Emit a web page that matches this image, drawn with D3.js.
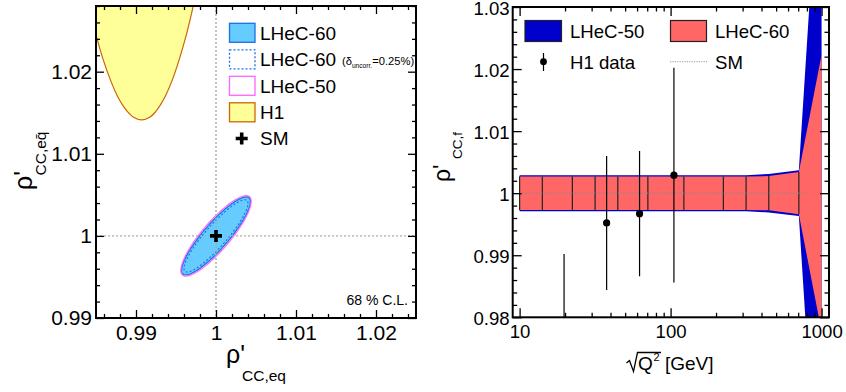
<!DOCTYPE html>
<html><head><meta charset="utf-8">
<script src="https://cdn.jsdelivr.net/npm/d3@7"></script>
<style>
html,body{margin:0;padding:0;background:#fff;}
svg{display:block;font-family:"Liberation Sans",Arial,Helvetica,sans-serif;}
</style></head><body>
<svg id="c" width="846" height="392"></svg>
<script>
// ---------- Left panel data ----------
const xTicksL = [0.99, 1, 1.01, 1.02];
const xTickLabelsL = ["0.99", "1", "1.01", "1.02"];
const yTicksL = [0.99, 1, 1.01, 1.02];
const yTickLabelsL = ["0.99", "1", "1.01", "1.02"];
const ellipseNames = ["LHeC-60", "LHeC-60 (δuncorr.=0.25%)", "LHeC-50"];
const ellipseCenterX = [1, 1, 1];
const ellipseCenterY = [1, 1, 1];
const ellipseHalfX = [0.0043, 0.0040, 0.0044];
const ellipseHalfY = [0.00475, 0.0044, 0.0049];
const ellipseRho = [0.88, 0.90, 0.86];
const h1ContourX = [0.98365, 0.985, 0.98591, 0.98680, 0.98761, 0.98831, 0.98896, 0.98964, 0.99071,
                    0.99176, 0.99243, 0.99305, 0.99374, 0.99454, 0.99539, 0.99629, 0.99716, 0.99760];
const h1ContourY = [1.02996, 1.02448, 1.02144, 1.01900, 1.01717, 1.01596, 1.01510, 1.01449, 1.01413,
                    1.01449, 1.01510, 1.01596, 1.01717, 1.01900, 1.02144, 1.02448, 1.02801, 1.02996];
const smPoint = [1, 1];
const leftLegendLabels = ["LHeC-60", "LHeC-60", "LHeC-50", "H1", "SM"];
const clLabel = "68 % C.L.";

// ---------- Right panel data ----------
const binEdges = [10, 14.14, 22.36, 31.62, 44.72, 70.71, 122.47, 223.61, 316.23, 447.21, 707.11, 1000];
const lhec60Half = [0.0027, 0.0027, 0.0027, 0.0027, 0.0027, 0.0027, 0.0027, 0.0027, 0.0027, 0.00275, 0.0034, 0.0223];
const lhec50Half = [0.0029, 0.0029, 0.0029, 0.0029, 0.0029, 0.0029, 0.0029, 0.0029, 0.0029, 0.0031, 0.00368, 0.061];
const h1Q = [19.7, 37.7, 62.3, 105.2];
const h1Val = [0.966, 0.9952, 0.9967, 1.0029];
const h1Err = [0.0242, 0.0108, 0.0101, 0.0173];
const smRange = [10, 800];
const xTicksR = [10, 100, 1000];
const xTickLabelsR = ["10", "100", "1000"];
const yTicksR = [0.98, 0.99, 1, 1.01, 1.02, 1.03];
const yTickLabelsR = ["0.98", "0.99", "1", "1.01", "1.02", "1.03"];
const rightLegendLabels = ["LHeC-50", "LHeC-60", "H1 data", "SM"];

const FONT = '"Liberation Sans",Arial,Helvetica,sans-serif';
const svg = d3.select("#c");

// ================= LEFT PANEL =================
const L = {x0: 96, x1: 416, y0: 6, y1: 318};
const xL = d3.scaleLinear().domain([0.985, 1.025]).range([L.x0, L.x1]);
const yL = d3.scaleLinear().domain([0.99, 1.028]).range([L.y1, L.y0]);

const defs = svg.append("defs");
defs.append("clipPath").attr("id", "clipL").append("rect")
  .attr("x", L.x0).attr("y", L.y0).attr("width", L.x1 - L.x0).attr("height", L.y1 - L.y0);

const gL = svg.append("g");
const plotL = gL.append("g").attr("clip-path", "url(#clipL)");

// H1 region
const h1Pts = h1ContourX.map((x, i) => [x, h1ContourY[i]]);
const h1Line = d3.line().x(d => xL(d[0])).y(d => yL(d[1])).curve(d3.curveCatmullRom.alpha(0.5));
plotL.append("path").attr("d", h1Line(h1Pts) + "Z")
  .attr("fill", "#ffff99").attr("stroke", "#cc6600").attr("stroke-width", 1.2);

// ellipses
function ellipsePts(i) {
  const n = 120, pts = [];
  const r = ellipseRho[i], s = Math.sqrt(1 - r * r);
  for (let k = 0; k <= n; k++) {
    const t = 2 * Math.PI * k / n;
    pts.push([ellipseCenterX[i] + ellipseHalfX[i] * Math.cos(t),
              ellipseCenterY[i] + ellipseHalfY[i] * (r * Math.cos(t) + s * Math.sin(t))]);
  }
  return pts;
}
const eLine = d3.line().x(d => xL(d[0])).y(d => yL(d[1]));
const ellStyles = [
  {fill: "#66ccff", stroke: "#1a6fe6", dash: null, w: 1.3},
  {fill: "none", stroke: "#1a6fe6", dash: "2,2", w: 1.1},
  {fill: "none", stroke: "#ff66ff", dash: null, w: 1.2}
];
[0, 1, 2].forEach(i => {
  plotL.append("path").attr("d", eLine(ellipsePts(i)) + "Z")
    .attr("fill", ellStyles[i].fill).attr("stroke", ellStyles[i].stroke)
    .attr("stroke-width", ellStyles[i].w)
    .attr("stroke-dasharray", ellStyles[i].dash);
});

// grid lines at SM
plotL.append("line").attr("x1", xL(smPoint[0])).attr("x2", xL(smPoint[0]))
  .attr("y1", L.y0).attr("y2", L.y1)
  .attr("stroke", "#aaaaaa").attr("stroke-width", 1.4).attr("stroke-dasharray", "2,2");
plotL.append("line").attr("x1", L.x0).attr("x2", L.x1)
  .attr("y1", yL(smPoint[1])).attr("y2", yL(smPoint[1]))
  .attr("stroke", "#aaaaaa").attr("stroke-width", 1.4).attr("stroke-dasharray", "2,2");

function cross(g, cx, cy, h, w) {
  g.append("path").attr("d", `M${cx - h},${cy}H${cx + h}M${cx},${cy - h}V${cy + h}`)
    .attr("stroke", "#000").attr("stroke-width", w).attr("fill", "none");
}
cross(plotL, xL(smPoint[0]), yL(smPoint[1]), 6, 3.6);

// axes left
function styleAxis(sel, fs) {
  sel.select(".domain").remove();
  sel.selectAll("line").attr("stroke", "#000").attr("stroke-width", 1.3);
  sel.selectAll("text").attr("font-size", fs).attr("font-family", FONT).attr("fill", "#000");
}
function rangeStep(a, b, s) { const out = []; for (let v = a; v <= b + 1e-9; v += s) out.push(+v.toFixed(6)); return out; }
const xMinorL = rangeStep(0.986, 1.024, 0.002).filter(v => !xTicksL.some(t => Math.abs(t - v) < 1e-6));
const yMinorL = rangeStep(0.99, 1.028, 0.002).filter(v => !yTicksL.some(t => Math.abs(t - v) < 1e-6));

gL.append("g").attr("transform", `translate(0,${L.y1})`)
  .call(d3.axisBottom(xL).tickValues(xTicksL).tickSize(-8).tickPadding(7).tickFormat((d, i) => xTickLabelsL[i]))
  .call(s => styleAxis(s, 21));
gL.append("g").attr("transform", `translate(0,${L.y1})`)
  .call(d3.axisBottom(xL).tickValues(xMinorL).tickSize(-4).tickFormat("")).call(s => styleAxis(s, 21));
gL.append("g").attr("transform", `translate(0,${L.y0})`)
  .call(d3.axisTop(xL).tickValues(xTicksL).tickSize(-8).tickFormat("")).call(s => styleAxis(s, 21));
gL.append("g").attr("transform", `translate(0,${L.y0})`)
  .call(d3.axisTop(xL).tickValues(xMinorL).tickSize(-4).tickFormat("")).call(s => styleAxis(s, 21));
gL.append("g").attr("transform", `translate(${L.x0},0)`)
  .call(d3.axisLeft(yL).tickValues(yTicksL).tickSize(-8).tickPadding(4).tickFormat((d, i) => yTickLabelsL[i]))
  .call(s => styleAxis(s, 21));
gL.append("g").attr("transform", `translate(${L.x0},0)`)
  .call(d3.axisLeft(yL).tickValues(yMinorL).tickSize(-4).tickFormat("")).call(s => styleAxis(s, 21));
gL.append("g").attr("transform", `translate(${L.x1},0)`)
  .call(d3.axisRight(yL).tickValues(yTicksL).tickSize(-8).tickFormat("")).call(s => styleAxis(s, 21));
gL.append("g").attr("transform", `translate(${L.x1},0)`)
  .call(d3.axisRight(yL).tickValues(yMinorL).tickSize(-4).tickFormat("")).call(s => styleAxis(s, 21));

gL.append("rect").attr("x", L.x0).attr("y", L.y0).attr("width", L.x1 - L.x0).attr("height", L.y1 - L.y0)
  .attr("fill", "none").attr("stroke", "#000").attr("stroke-width", 2);

// left legend
const legL = gL.append("g");
const rowY = [32.8, 59.3, 85.8, 112.3, 138.5];
const boxStyles = [
  {fill: "#66ccff", stroke: "#1a6fe6", dash: null},
  {fill: "none", stroke: "#1a6fe6", dash: "2,2"},
  {fill: "none", stroke: "#ff66ff", dash: null},
  {fill: "#ffff99", stroke: "#cc6600", dash: null}
];
leftLegendLabels.forEach((lab, i) => {
  if (i < 4) {
    legL.append("rect").attr("x", 229.5).attr("y", rowY[i] - 9.5).attr("width", 25.5).attr("height", 19)
      .attr("fill", boxStyles[i].fill).attr("stroke", boxStyles[i].stroke)
      .attr("stroke-width", 1.3).attr("stroke-dasharray", boxStyles[i].dash);
  } else {
    cross(legL, 241.7, rowY[i], 6, 3.6);
  }
  legL.append("text").attr("x", 260).attr("y", rowY[i] + 6.8).attr("font-size", 19).text(lab);
});
const small = legL.append("text").attr("x", 342).attr("y", 65).attr("font-size", 11.2);
small.append("tspan").text("(δ");
small.append("tspan").attr("font-size", 6.6).attr("dy", 2.6).text("uncorr.");
small.append("tspan").attr("dy", -2.6).text("=0.25%)");

gL.append("text").attr("x", 408).attr("y", 305).attr("text-anchor", "end").attr("font-size", 14).text(clLabel);

// left axis titles
gL.append("text").attr("transform", "translate(32,190) rotate(-90)").attr("font-size", 25).text("ρ'");
gL.append("text").attr("transform", "translate(46,175.5) rotate(-90)").attr("font-size", 15.5).text("CC,eq\u0304");
gL.append("text").attr("x", 226).attr("y", 363).attr("font-size", 25).text("ρ'");
gL.append("text").attr("x", 242).attr("y", 381).attr("font-size", 15.5).text("CC,eq");

// ================= RIGHT PANEL =================
const R = {x0: 512.7, x1: 829, y0: 7, y1: 317.3};
const xR = d3.scaleLog().domain([9, 1120]).range([R.x0, R.x1]);
const yR = d3.scaleLinear().domain([0.98, 1.03]).range([R.y1, R.y0]);
defs.append("clipPath").attr("id", "clipR").append("rect")
  .attr("x", R.x0).attr("y", R.y0).attr("width", R.x1 - R.x0).attr("height", R.y1 - R.y0);
const gR = svg.append("g");
const plotR = gR.append("g").attr("clip-path", "url(#clipR)");

const bandArea = arr => d3.area()
  .x((d, i) => xR(d))
  .y0((d, i) => yR(1 - arr[i]))
  .y1((d, i) => yR(1 + arr[i]));
plotR.append("path").attr("d", bandArea(lhec50Half)(binEdges)).attr("fill", "#0000cc");
plotR.append("path").attr("d", bandArea(lhec60Half)(binEdges)).attr("fill", "#ff6666");
binEdges.slice(0, -1).forEach((q, i) => {
  plotR.append("line").attr("x1", xR(q)).attr("x2", xR(q))
    .attr("y1", yR(1 + lhec60Half[i])).attr("y2", yR(1 - lhec60Half[i]))
    .attr("stroke", "#222").attr("stroke-width", 1.2);
});
plotR.append("line").attr("x1", xR(smRange[0])).attr("x2", xR(smRange[1]))
  .attr("y1", yR(1)).attr("y2", yR(1))
  .attr("stroke", "#888").attr("stroke-width", 1).attr("stroke-dasharray", "1.2,1.2");

h1Q.forEach((q, i) => {
  plotR.append("line").attr("x1", xR(q)).attr("x2", xR(q))
    .attr("y1", yR(h1Val[i] + h1Err[i])).attr("y2", yR(h1Val[i] - h1Err[i]))
    .attr("stroke", "#000").attr("stroke-width", 1.2);
  plotR.append("circle").attr("cx", xR(q)).attr("cy", yR(h1Val[i])).attr("r", 3.6).attr("fill", "#000");
});

// right axes
const xMinorR = [];
[10, 100].forEach(dec => { for (let k = 2; k <= 9; k++) xMinorR.push(dec * k); });
const yMinorR = rangeStep(0.98, 1.03, 0.002).filter(v => !yTicksR.some(t => Math.abs(t - v) < 1e-6));
gR.append("g").attr("transform", `translate(0,${R.y1})`)
  .call(d3.axisBottom(xR).tickValues(xTicksR).tickSize(-9).tickPadding(7).tickFormat((d, i) => xTickLabelsR[i]))
  .call(s => styleAxis(s, 18.6));
gR.append("g").attr("transform", `translate(0,${R.y1})`)
  .call(d3.axisBottom(xR).tickValues(xMinorR).tickSize(-4.5).tickFormat("")).call(s => styleAxis(s, 18.6));
gR.append("g").attr("transform", `translate(0,${R.y0})`)
  .call(d3.axisTop(xR).tickValues(xTicksR).tickSize(-9).tickFormat("")).call(s => styleAxis(s, 18.6));
gR.append("g").attr("transform", `translate(0,${R.y0})`)
  .call(d3.axisTop(xR).tickValues(xMinorR).tickSize(-4.5).tickFormat("")).call(s => styleAxis(s, 18.6));
gR.append("g").attr("transform", `translate(${R.x0},0)`)
  .call(d3.axisLeft(yR).tickValues(yTicksR).tickSize(-9).tickPadding(3).tickFormat((d, i) => yTickLabelsR[i]))
  .call(s => styleAxis(s, 18.6))
  .call(s => s.selectAll("text").attr("dy", "0.38em"));
gR.append("g").attr("transform", `translate(${R.x0},0)`)
  .call(d3.axisLeft(yR).tickValues(yMinorR).tickSize(-4.5).tickFormat("")).call(s => styleAxis(s, 18.6));
gR.append("g").attr("transform", `translate(${R.x1},0)`)
  .call(d3.axisRight(yR).tickValues(yTicksR).tickSize(-9).tickFormat("")).call(s => styleAxis(s, 18.6));
gR.append("g").attr("transform", `translate(${R.x1},0)`)
  .call(d3.axisRight(yR).tickValues(yMinorR).tickSize(-4.5).tickFormat("")).call(s => styleAxis(s, 18.6));

gR.append("rect").attr("x", R.x0).attr("y", R.y0).attr("width", R.x1 - R.x0).attr("height", R.y1 - R.y0)
  .attr("fill", "none").attr("stroke", "#000").attr("stroke-width", 2);

// right legend
const legR = gR.append("g");
legR.append("rect").attr("x", 525).attr("y", 20.5).attr("width", 36.5).attr("height", 21)
  .attr("fill", "#0000cc").attr("stroke", "#222").attr("stroke-width", 1.2);
legR.append("rect").attr("x", 670.5).attr("y", 20.5).attr("width", 36).attr("height", 21)
  .attr("fill", "#ff6666").attr("stroke", "#222").attr("stroke-width", 1.2);
legR.append("line").attr("x1", 543.5).attr("x2", 543.5).attr("y1", 53).attr("y2", 71)
  .attr("stroke", "#000").attr("stroke-width", 1.2);
legR.append("circle").attr("cx", 543.5).attr("cy", 61.7).attr("r", 3.4).attr("fill", "#000");
legR.append("line").attr("x1", 670).attr("x2", 707).attr("y1", 61.7).attr("y2", 61.7)
  .attr("stroke", "#999").attr("stroke-width", 1).attr("stroke-dasharray", "1.2,1.2");
const rlx = [570, 715, 570, 715], rly = [38.3, 38.3, 68.5, 68.5];
rightLegendLabels.forEach((lab, i) => {
  legR.append("text").attr("x", rlx[i]).attr("y", rly[i]).attr("font-size", 18.6).text(lab);
});

// right axis titles
gR.append("text").attr("transform", "translate(449.5,182) rotate(-90)").attr("font-size", 23).text("ρ'");
gR.append("text").attr("transform", "translate(462,159) rotate(-90)").attr("font-size", 13.5).text("CC,f");
gR.append("path").attr("d", "M626.5,363 L629.5,360.5 L633.5,371.5 L637.5,352.5 L661,352.5")
  .attr("fill", "none").attr("stroke", "#000").attr("stroke-width", 1.3);
gR.append("text").attr("x", 638).attr("y", 370).attr("font-size", 19).text("Q");
gR.append("text").attr("x", 653.5).attr("y", 361).attr("font-size", 11).text("2");
gR.append("text").attr("x", 665).attr("y", 370).attr("font-size", 19).text("[GeV]");
</script>
</body></html>
